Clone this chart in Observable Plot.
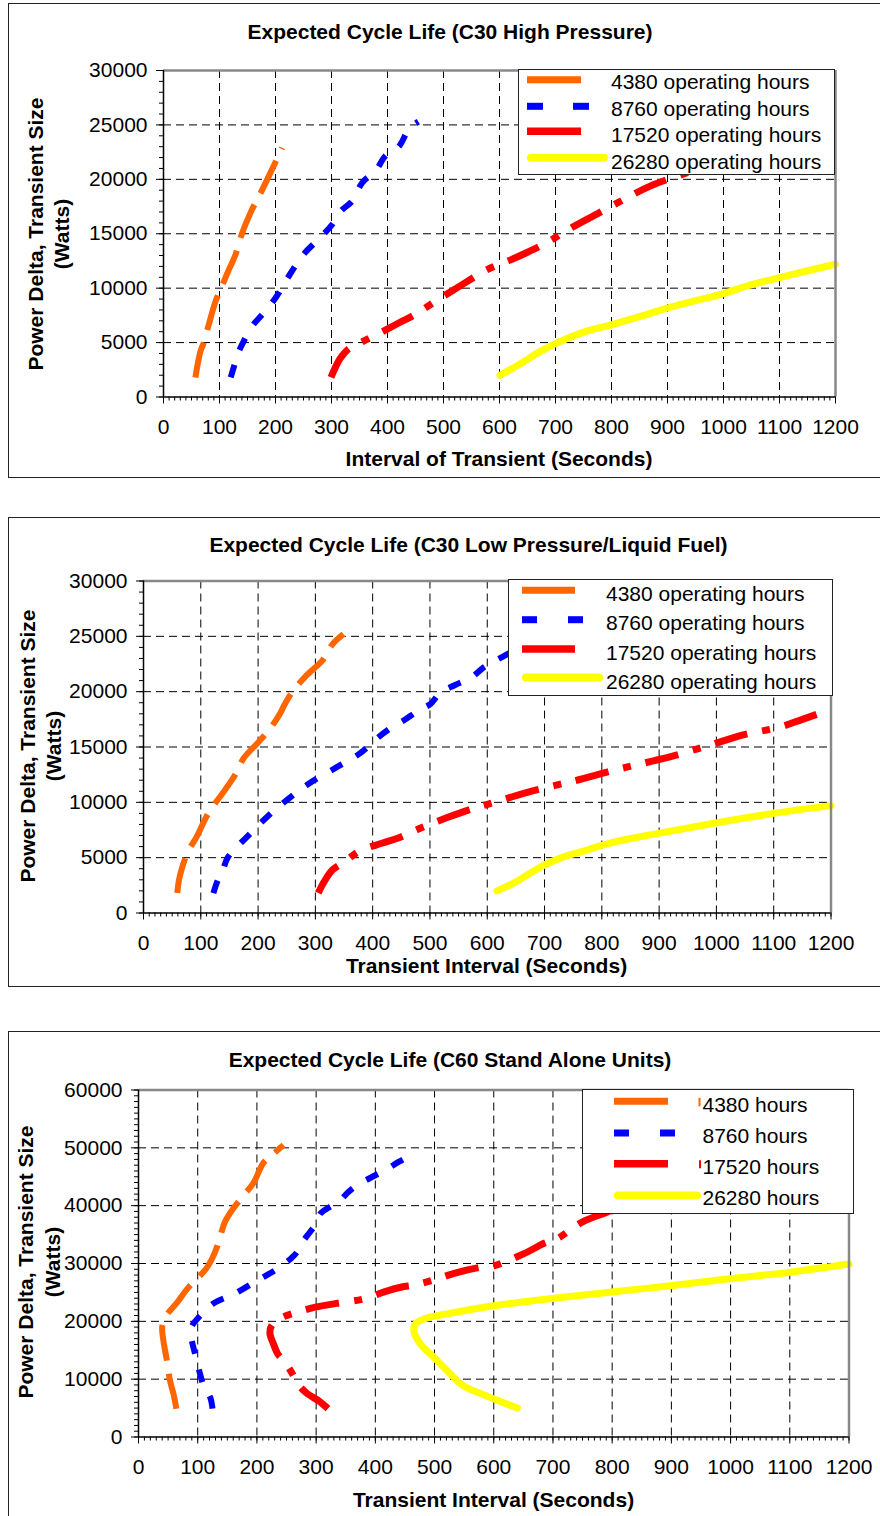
<!DOCTYPE html>
<html><head><meta charset="utf-8">
<script src="https://cdn.jsdelivr.net/npm/d3@7"></script>
<script src="https://cdn.jsdelivr.net/npm/@observablehq/plot@0.6"></script>
<style>
html,body{margin:0;padding:0;background:#fff;}
body{width:880px;height:1516px;position:relative;overflow:hidden;font-family:Arial,"Liberation Sans",sans-serif;color:#000;}
.box{position:absolute;border:1.6px solid #222;box-sizing:border-box;}
.t{position:absolute;white-space:nowrap;font-size:21px;line-height:24px;}
.b{font-weight:bold;}
.legend{position:absolute;background:#fff;border:1.5px solid #222;box-sizing:border-box;}
</style></head><body>
<script>
// ---------- data ----------
const xTicks = [0,100,200,300,400,500,600,700,800,900,1000,1100,1200];
const yTicks30 = [0,5000,10000,15000,20000,25000,30000];
const yTicks60 = [0,10000,20000,30000,40000,50000,60000];

const titles = [
  "Expected Cycle Life (C30 High Pressure)",
  "Expected Cycle Life (C30 Low Pressure/Liquid Fuel)",
  "Expected Cycle Life (C60 Stand Alone Units)"
];
const xTitles = ["Interval of Transient (Seconds)","Transient Interval (Seconds)","Transient Interval (Seconds)"];
const yTitle = ["Power Delta, Transient Size","(Watts)"];
const legendC30 = ["4380 operating hours","8760 operating hours","17520 operating hours","26280 operating hours"];
const legendC60 = ["4380 hours","8760 hours","17520 hours","26280 hours"];

// Chart 1: C30 High Pressure  [seconds, watts]
const hp4380 = [[57,1800],[61,3000],[66,4200],[72,5000],[80,6500],[93,8800],[103,10000],[115,11500],[128,13000],[140,15000],[156,17000],[173,18700],[190,20500],[212,22900]];
const hp8760 = [[120,1800],[127,3000],[133,4000],[142,5000],[158,6500],[175,7500],[200,9100],[220,10800],[250,13100],[281,14700],[302,15900],[317,17100],[337,18000],[355,19700],[379,20800],[397,22200],[420,23000],[438,24600],[455,25300]];
const hp17520 = [[299,1800],[305,2500],[315,3500],[330,4400],[352,5000],[387,5900],[420,6800],[450,7600],[480,8600],[520,9900],[578,11700],[620,12600],[650,13300],[685,14200],[730,15600],[777,16900],[831,18400],[870,19400],[935,20600],[965,21100]];
const hp26280 = [[601,2000],[636,3000],[670,4100],[700,4900],[744,5850],[804,6700],[864,7600],[923,8500],[1000,9500],[1042,10200],[1102,11000],[1200,12200]];

// Chart 2: C30 Low Pressure / Liquid Fuel
const lp4380 = [[59,1800],[62,3000],[68,4200],[78,5600],[93,6900],[113,9000],[142,11100],[160,12500],[175,14000],[198,15300],[220,16600],[237,17900],[247,18900],[260,20000],[285,21500],[312,22800],[330,24300],[349,25200]];
const lp8760 = [[122,1800],[130,3000],[137,3600],[147,5000],[181,6900],[216,8700],[250,10200],[289,11700],[338,13200],[377,14400],[408,15800],[434,16800],[454,17400],[480,18300],[501,18900],[518,19900],[544,20600],[573,21300],[594,22200],[632,23300],[680,24800]];
const lp17520 = [[305,1800],[315,2800],[330,3900],[350,4600],[377,5600],[416,6300],[446,6800],[485,7700],[529,8600],[573,9400],[606,9900],[670,10900],[724,11600],[753,11950],[829,13000],[890,13750],[925,14200],[990,15200],[1047,16100],[1111,16800],[1150,17500],[1200,18400]];
const lp26280 = [[617,2000],[646,2700],[675,3600],[700,4350],[730,5000],[762,5500],[821,6400],[899,7200],[995,8100],[1100,9000],[1200,9700]];

// Chart 3: C60 Stand Alone Units
const sa4380 = [[64,4900],[62,6000],[59,7500],[55,9000],[52,10400],[48,13200],[42,16700],[40,19000],[45,20500],[49,21300],[64,23100],[83,25700],[102,27700],[115,29200],[125,31000],[133,33000],[139,35000],[146,37200],[160,39500],[175,41500],[194,43900],[211,47400],[228,49000],[245,50500]];
const sa8760 = [[125,4900],[121,6900],[111,8600],[104,10900],[97,13800],[90,16700],[88,18400],[92,19500],[100,20500],[125,23000],[163,24800],[201,27100],[230,28800],[258,30900],[270,32300],[277,33700],[290,35500],[302,37200],[307,38600],[338,40700],[355,42400],[369,43500],[395,45000],[418,46200],[440,47600],[465,49000]];
const sa17520 = [[320,4900],[305,6200],[285,7500],[272,8800],[263,10400],[249,12700],[235,14400],[228,16100],[222,17900],[225,19300],[239,20500],[268,21600],[301,22500],[334,23100],[382,23900],[415,25100],[443,25900],[468,26300],[500,27200],[533,28300],[575,29300],[600,29600],[651,31700],[685,33500],[707,34300],[750,37200],[792,38900],[830,40500]];
const sa26280 = [[640,5000],[610,6200],[578,7500],[555,8500],[544,9200],[521,11500],[499,13800],[476,16100],[465,18400],[468,19600],[482,20400],[521,21300],[600,22700],[702,24000],[803,25100],[902,26200],[1002,27400],[1101,28500],[1200,29900]];

// ---------- styles ----------
const FONT = 'Arial, "Liberation Sans", sans-serif';
const sty = [
  {color:"#FF6600", width:6, dash:"36,13", cap:"butt"},
  {color:"#0000FF", width:6, dash:"13,16", cap:"butt"},
  {color:"#FF0000", width:7, dash:"34,15,8,15", cap:"butt"},
  {color:"#FFFF00", width:7, dash:null, cap:"round"}
];
const xMinor = d3.range(0, 1201, 10);

const charts = [
  {series:[hp4380,hp8760,hp17520,hp26280], yTicks:yTicks30, ymax:30000,
   box:[8,3,900,475], svgTop:0, h:480, ml:163, mr:45, mt:70, mb:83.5,
   title:[450,32], xt:[499,459.3], yt:[[36,233.5],[62,233.5]],
   leg:{box:[518,69,317,106], sy:[79.7,106.3,131.3,157.8], x0:527, x1:581, xy:608, blue:[[527,543],[573,589]],
        tx:611, ty:[82,108.5,135,161.5], labels:legendC30, marks:false}},
  {series:[lp4380,lp8760,lp17520,lp26280], yTicks:yTicks30, ymax:30000,
   box:[8,517,900,470], svgTop:510, h:480, ml:143, mr:49.5, mt:70.5, mb:77.5,
   title:[468.5,544.5], xt:[486.5,965.5], yt:[[28,746],[54,746]],
   leg:{box:[508,579,325,117], sy:[590.3,619.7,649,677.5], x0:522, x1:575, xy:603, blue:[[522,537],[568,583]],
        tx:606, ty:[593.5,623,653,682], labels:legendC30, marks:false}},
  {series:[sa4380,sa8760,sa17520,sa26280], yTicks:yTicks60, ymax:60000,
   box:[8,1030.7,900,600], svgTop:1020, h:496, ml:138, mr:31.5, mt:69.5, mb:79.5,
   title:[450,1060.3], xt:[493.5,1499.5], yt:[[26,1262],[53,1262]],
   leg:{box:[582,1089,272,125], sy:[1101.3,1133,1163.8,1195.5], x0:614, x1:668, xy:701, blue:[[614,629],[660,675]],
        tx:702.5, ty:[1104.5,1135.7,1166.5,1198], labels:legendC60, marks:true}}
];

function addText(txt, cx, cy, cls, opts={}) {
  const d = document.createElement("div");
  d.className = "t " + (cls||"");
  d.textContent = txt;
  d.style.left = cx + "px";
  d.style.top = (cy - 12) + "px";
  if (opts.center) d.style.transform = "translateX(-50%)";
  if (opts.rot) { d.style.top = cy + "px"; d.style.transform = "translate(-50%,-50%) rotate(-90deg)"; }
  document.body.appendChild(d);
  return d;
}

const NS = "http://www.w3.org/2000/svg";
function svgLine(svg, x1, y1, x2, y2, color, w, cap) {
  const l = document.createElementNS(NS, "line");
  l.setAttribute("x1", x1); l.setAttribute("y1", y1);
  l.setAttribute("x2", x2); l.setAttribute("y2", y2);
  l.setAttribute("stroke", color); l.setAttribute("stroke-width", w);
  l.setAttribute("stroke-linecap", cap || "butt");
  svg.appendChild(l);
}

charts.forEach((c, ci) => {
  const box = document.createElement("div");
  box.className = "box";
  box.style.left = c.box[0] + "px"; box.style.top = c.box[1] + "px";
  box.style.width = c.box[2] + "px"; box.style.height = c.box[3] + "px";
  document.body.appendChild(box);

  const minorY = d3.range(0, c.ymax + 1, 1000);
  const gridStyle = {stroke:"#000", strokeOpacity:1, strokeWidth:1, strokeDasharray:"8,5"};
  const plot = Plot.plot({
    width: 880, height: c.h,
    marginLeft: c.ml, marginRight: c.mr, marginTop: c.mt, marginBottom: c.mb,
    style: {fontFamily: FONT, fontSize: "21px", color: "#000", background: "transparent", overflow: "visible"},
    x: {domain: [0, 1200], label: null},
    y: {domain: [0, c.ymax], label: null},
    marks: [
      Plot.gridX(xTicks.filter(d => d > 0 && d < 1200), gridStyle),
      Plot.gridY(c.yTicks.filter(d => d > 0 && d < c.ymax), gridStyle),
      ...c.series.map((s, i) => Plot.line(s, {
        x: d => d[0], y: d => d[1],
        stroke: sty[i].color, strokeWidth: sty[i].width,
        strokeDasharray: sty[i].dash || undefined,
        strokeLinecap: sty[i].cap, strokeLinejoin: "round",
        curve: "catmull-rom"
      })),
      Plot.ruleY([c.ymax], {stroke: "#888", strokeWidth: 2.5}),
      Plot.ruleX([1200], {stroke: "#888", strokeWidth: 2.5}),
      Plot.ruleX([0], {stroke: "#000", strokeWidth: 1.5}),
      Plot.ruleY([0], {stroke: "#000", strokeWidth: 1.5}),
      Plot.axisY(minorY, {tickSize: 4, tickFormat: () => "", label: null}),
      Plot.axisY(c.yTicks, {tickSize: 7, tickPadding: 9, tickFormat: d => String(d), label: null}),
      Plot.axisX(xMinor, {tickSize: 4, tickFormat: () => "", label: null}),
      Plot.axisX(xTicks, {tickSize: 7, tickPadding: 15, tickFormat: d => String(d), label: null})
    ]
  });
  plot.style.position = "absolute";
  plot.style.left = "0px";
  plot.style.top = c.svgTop + "px";
  document.body.appendChild(plot);

  addText(titles[ci], c.title[0], c.title[1], "b", {center: true});
  addText(xTitles[ci], c.xt[0], c.xt[1], "b", {center: true});
  addText(yTitle[0], c.yt[0][0], c.yt[0][1], "b", {rot: true});
  addText(yTitle[1], c.yt[1][0], c.yt[1][1], "b", {rot: true});

  const L = c.leg;
  const lg = document.createElement("div");
  lg.className = "legend";
  lg.style.left = L.box[0] + "px"; lg.style.top = L.box[1] + "px";
  lg.style.width = L.box[2] + "px"; lg.style.height = L.box[3] + "px";
  document.body.appendChild(lg);
  const ls = document.createElementNS(NS, "svg");
  ls.setAttribute("width", 880); ls.setAttribute("height", 1516);
  ls.style.position = "absolute"; ls.style.left = "0px"; ls.style.top = "0px"; ls.style.pointerEvents = "none";
  svgLine(ls, L.x0, L.sy[0], L.x1, L.sy[0], sty[0].color, 7);
  L.blue.forEach(([a, b]) => svgLine(ls, a, L.sy[1], b, L.sy[1], sty[1].color, 7));
  svgLine(ls, L.x0, L.sy[2], L.x1, L.sy[2], sty[2].color, 7.5);
  svgLine(ls, L.x0 + 4, L.sy[3], L.xy - 4, L.sy[3], sty[3].color, 8, "round");
  if (L.marks) {
    svgLine(ls, 699.5, L.sy[0] - 3.5, 699.5, L.sy[0] + 5, sty[0].color, 2);
    svgLine(ls, 700, L.sy[2] - 3.5, 700, L.sy[2] + 4.5, sty[2].color, 2);
  }
  document.body.appendChild(ls);
  L.labels.forEach((lab, i) => addText(lab, L.tx, L.ty[i], ""));
});
</script>
</body></html>
